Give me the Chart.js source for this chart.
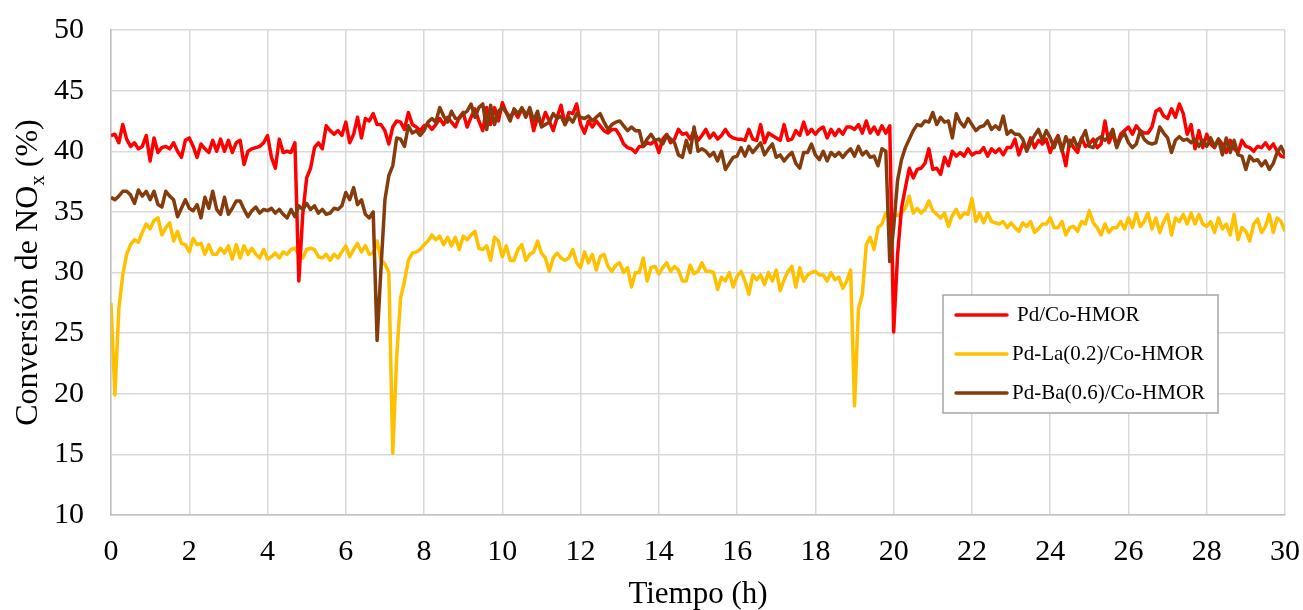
<!DOCTYPE html>
<html lang="es">
<head>
<meta charset="utf-8">
<title>Conversión de NOx</title>
<script src="https://cdn.jsdelivr.net/npm/chart.js@4.4.1/dist/chart.umd.min.js"></script>
<style>
    html, body { margin: 0; padding: 0; background: #fff; }
    #wrap { width: 1303px; height: 610px; position: relative; }
</style>
</head>
<body>
<div id="wrap"><canvas id="graph"></canvas></div>
<script>
// DATOS (una muestra cada 0.1 h)
const paso = 0.1;
const series = ["Pd/Co-HMOR", "Pd-La(0.2)/Co-HMOR", "Pd-Ba(0.6)/Co-HMOR"];
const colores = ["#FF0000", "#FFC000", "#843C0C"];

const pdCo = [
    41.3, 41.4, 40.7, 42.2, 41.0, 40.4, 40.7, 40.2, 40.4, 41.3,
    39.2, 41.1, 39.9, 40.3, 40.4, 40.2, 40.7, 40.0, 39.5, 40.9,
    41.1, 40.4, 39.5, 40.6, 40.2, 39.9, 40.9, 40.0, 41.0, 40.0,
    40.9, 39.9, 40.7, 40.9, 38.9, 40.0, 40.2, 40.3, 40.4, 40.7,
    41.3, 39.5, 38.6, 41.0, 39.9, 40.0, 39.9, 40.7, 29.3, 34.8,
    37.8, 38.6, 40.3, 40.7, 40.2, 42.1, 41.7, 41.4, 41.7, 41.3,
    42.4, 40.7, 41.4, 42.8, 41.1, 42.7, 42.5, 43.1, 42.2, 42.2,
    41.7, 40.6, 42.0, 42.5, 42.4, 41.8, 43.2, 42.2, 42.0, 41.7,
    42.1, 42.2, 41.8, 42.2, 42.7, 42.2, 42.8, 42.4, 42.0, 42.8,
    43.2, 42.0, 42.8, 43.5, 42.5, 41.7, 43.6, 42.2, 43.6, 42.5,
    44.0, 43.2, 42.8, 43.3, 42.8, 43.5, 43.1, 43.3, 41.7, 42.8,
    42.2, 43.2, 42.5, 41.7, 42.8, 43.8, 42.2, 43.2, 43.1, 43.9,
    42.2, 41.5, 42.5, 42.0, 42.5, 42.1, 41.7, 41.5, 41.8, 41.8,
    41.3, 40.6, 40.3, 40.2, 39.9, 40.4, 40.4, 40.7, 40.6, 40.9,
    39.9, 41.0, 41.4, 40.7, 41.0, 41.8, 41.4, 41.5, 41.0, 41.7,
    40.9, 41.3, 41.8, 41.1, 41.5, 41.0, 41.3, 41.8, 41.3, 41.1,
    41.0, 41.0, 40.9, 41.8, 41.0, 40.9, 42.2, 40.7, 41.5, 41.3,
    41.1, 40.9, 42.2, 40.9, 41.0, 41.7, 41.3, 42.4, 41.4, 41.8,
    41.4, 41.8, 42.0, 41.1, 41.8, 41.3, 41.8, 41.4, 42.0, 42.0,
    41.8, 42.2, 41.5, 42.5, 41.5, 42.0, 41.4, 42.1, 41.5, 42.1,
    25.1, 31.5, 35.3, 37.0, 38.6, 37.8, 38.5, 38.6, 39.0, 40.2,
    38.5, 38.6, 38.1, 39.5, 38.8, 40.0, 39.6, 39.9, 39.6, 40.2,
    39.7, 39.9, 39.9, 40.3, 39.6, 40.2, 39.9, 40.2, 39.7, 40.3,
    40.3, 41.0, 39.7, 40.6, 40.2, 41.1, 40.3, 40.9, 40.6, 41.0,
    39.9, 40.7, 41.3, 40.2, 38.8, 40.9, 40.3, 39.9, 41.1, 40.4,
    40.6, 41.0, 40.3, 40.6, 42.5, 40.7, 41.5, 40.4, 41.4, 41.7,
    42.0, 41.4, 42.1, 41.7, 41.5, 41.5, 42.0, 43.3, 43.5, 42.9,
    42.7, 43.5, 42.8, 43.9, 43.1, 41.4, 42.2, 40.2, 41.7, 40.3,
    41.4, 40.6, 40.3, 41.0, 40.6, 39.9, 40.9, 40.2, 39.9, 40.9,
    40.4, 40.3, 40.0, 40.4, 40.3, 40.7, 40.2, 40.6, 40.0, 39.6,
    39.5
];

const pdLa = [
    27.5, 19.9, 27.0, 29.8, 31.5, 32.3, 32.7, 32.5, 33.3, 34.0,
    33.6, 34.3, 34.5, 33.1, 33.7, 34.1, 32.6, 33.4, 32.4, 32.3,
    31.7, 32.8, 32.3, 32.4, 31.5, 32.3, 31.5, 31.5, 32.0, 31.6,
    32.2, 31.1, 32.3, 31.2, 32.2, 31.5, 32.0, 31.5, 31.2, 31.9,
    31.1, 31.3, 31.6, 31.2, 31.7, 31.5, 31.9, 32.0, 31.5, 31.2,
    31.9, 32.0, 31.9, 31.3, 31.2, 31.5, 31.0, 31.5, 31.2, 31.7,
    32.2, 31.3, 31.9, 32.4, 31.7, 32.2, 31.5, 31.6, 32.6, 31.0,
    30.7, 30.0, 15.1, 23.0, 27.9, 29.3, 31.0, 31.6, 31.7, 31.9,
    32.3, 32.6, 33.1, 32.7, 33.0, 32.3, 32.9, 32.2, 32.9, 31.9,
    33.0, 32.7, 33.1, 33.4, 32.0, 31.9, 32.2, 31.0, 32.9, 32.6,
    31.3, 32.2, 31.0, 31.0, 31.9, 32.3, 31.0, 31.5, 31.7, 32.6,
    31.6, 31.2, 30.1, 31.2, 31.6, 31.2, 31.0, 31.2, 31.9, 30.8,
    30.4, 31.7, 30.8, 31.5, 30.2, 31.3, 31.5, 30.5, 30.1, 30.6,
    30.8, 30.0, 30.4, 28.8, 30.0, 30.0, 31.2, 29.3, 30.4, 30.5,
    29.9, 30.4, 30.8, 30.1, 30.5, 30.2, 29.3, 29.3, 30.6, 29.9,
    30.1, 30.8, 30.1, 30.1, 30.0, 28.6, 29.6, 29.3, 30.0, 28.8,
    29.7, 30.1, 29.3, 28.2, 29.8, 29.4, 29.8, 29.0, 30.0, 29.3,
    30.2, 28.5, 29.4, 30.1, 30.5, 28.8, 30.4, 29.3, 29.8, 30.0,
    30.1, 29.8, 29.8, 29.3, 30.0, 29.4, 29.6, 28.7, 29.3, 30.2,
    19.0, 27.0, 28.2, 32.3, 32.9, 31.9, 33.7, 34.0, 34.9, 34.5,
    34.8, 34.7, 34.9, 35.3, 36.3, 34.9, 35.3, 34.9, 35.2, 35.9,
    35.1, 34.8, 34.5, 34.9, 33.8, 34.7, 35.2, 34.5, 34.9, 34.8,
    36.1, 34.2, 34.9, 34.1, 34.9, 34.2, 34.1, 34.0, 34.2, 33.7,
    34.1, 33.7, 33.4, 34.1, 33.8, 34.2, 33.3, 33.6, 34.0, 34.0,
    34.5, 33.7, 33.7, 34.2, 33.1, 33.7, 33.8, 33.4, 34.2, 34.0,
    35.1, 34.1, 33.7, 33.1, 34.0, 33.3, 33.7, 33.7, 34.2, 33.6,
    34.5, 33.7, 34.9, 33.8, 34.2, 34.9, 33.6, 34.5, 33.3, 34.2,
    34.8, 33.1, 34.5, 34.2, 34.8, 34.0, 34.9, 34.0, 34.8, 34.0,
    33.8, 34.2, 33.3, 34.5, 33.6, 34.0, 33.1, 34.8, 32.7, 33.7,
    33.4, 32.6, 34.0, 34.4, 33.3, 33.8, 34.8, 33.3, 34.5, 34.2,
    33.4
];

const pdBa = [
    36.2, 36.0, 36.3, 36.7, 36.7, 36.4, 35.7, 36.8, 36.3, 36.7,
    36.0, 36.7, 35.6, 35.4, 36.7, 36.3, 36.0, 34.6, 35.3, 36.0,
    35.3, 35.1, 35.6, 34.5, 36.2, 35.3, 36.7, 35.2, 34.8, 36.2,
    34.8, 35.3, 35.9, 35.9, 35.2, 34.6, 35.1, 35.4, 34.9, 35.2,
    35.1, 35.3, 34.9, 35.2, 34.8, 34.5, 35.2, 34.6, 35.5, 35.2,
    35.7, 35.2, 35.5, 34.9, 35.2, 34.8, 34.9, 35.3, 35.2, 35.5,
    36.6, 36.0, 37.0, 35.6, 36.0, 34.8, 34.5, 35.0, 24.4, 30.4,
    36.0, 38.0, 38.8, 41.1, 41.0, 40.4, 42.1, 41.5, 41.7, 41.3,
    41.7, 42.4, 42.7, 42.4, 43.6, 42.9, 42.4, 43.3, 42.7, 42.7,
    43.1, 43.3, 43.9, 42.8, 43.6, 43.9, 41.8, 43.8, 42.2, 43.3,
    43.6, 43.2, 42.5, 43.5, 43.1, 43.6, 42.8, 43.6, 42.5, 43.3,
    42.0, 42.2, 42.4, 43.1, 42.7, 42.9, 42.2, 42.8, 42.4, 43.1,
    42.8, 42.7, 42.9, 42.5, 42.8, 43.1, 42.4, 41.8, 42.2, 42.4,
    42.5, 42.1, 41.7, 42.0, 41.7, 41.7, 40.4, 41.0, 41.4, 40.9,
    41.0, 40.6, 41.3, 41.0, 40.7, 39.7, 39.5, 40.9, 39.9, 42.0,
    40.0, 40.2, 40.0, 39.6, 39.9, 39.2, 40.0, 38.5, 39.0, 39.5,
    39.6, 40.3, 39.6, 40.4, 39.9, 40.3, 40.7, 39.7, 40.2, 40.6,
    39.5, 39.7, 39.2, 39.6, 39.9, 39.0, 38.6, 39.9, 39.9, 40.6,
    39.7, 39.3, 40.0, 39.2, 39.9, 39.6, 39.9, 39.5, 39.9, 40.2,
    39.6, 40.4, 39.7, 40.0, 39.5, 39.6, 38.8, 40.2, 40.0, 30.9,
    33.7, 37.6, 39.3, 40.3, 41.0, 41.7, 42.2, 42.1, 42.5, 42.4,
    43.2, 42.2, 42.8, 42.4, 42.5, 41.1, 43.1, 42.4, 42.0, 42.7,
    42.2, 41.7, 42.0, 42.1, 42.5, 41.8, 42.1, 41.8, 42.9, 41.4,
    41.7, 41.4, 41.4, 41.0, 40.0, 40.7, 41.3, 41.8, 40.9, 41.7,
    41.1, 40.3, 41.2, 40.0, 41.2, 40.4, 41.1, 40.3, 41.0, 41.7,
    40.4, 40.3, 41.0, 41.2, 40.9, 41.2, 41.8, 40.3, 41.1, 41.5,
    40.7, 40.3, 40.6, 41.7, 41.0, 40.7, 40.6, 40.7, 42.0, 41.5,
    41.1, 39.9, 40.9, 41.2, 40.9, 41.0, 40.7, 41.0, 40.4, 40.9,
    40.4, 41.1, 40.4, 41.0, 39.7, 41.1, 39.9, 40.9, 39.7, 39.6,
    38.5, 39.6, 39.2, 39.3, 38.8, 39.2, 38.5, 39.0, 39.9, 40.4,
    39.7
];

// tiempo de cada muestra (h)
const tiempo = pdCo.map((_, i) => +(i * paso).toFixed(1));

const FUENTE = "'Liberation Serif', 'Times New Roman', serif";

function puntos(valores) {
    return valores.map((v, i) => ({ x: tiempo[i], y: v }));
}

// TITULO DEL EJE Y CON SUBINDICE
const tituloY = {
    id: "tituloY",
    afterDraw(chart) {
        const ctx = chart.ctx;
        const area = chart.chartArea;
        const partes = [
            { t: "Conversión de NO", size: 32, dy: 0 },
            { t: "x", size: 21, dy: 7 },
            { t: " (%)", size: 32, dy: 0 },
        ];
        ctx.save();
        let total = 0;
        partes.forEach((p) => {
            ctx.font = p.size + "px " + FUENTE;
            p.w = ctx.measureText(p.t).width;
            total += p.w;
        });
        ctx.translate(26, (area.top + area.bottom) / 2);
        ctx.rotate(-Math.PI / 2);
        ctx.fillStyle = "#000";
        ctx.textBaseline = "alphabetic";
        let x = -total / 2;
        partes.forEach((p) => {
            ctx.font = p.size + "px " + FUENTE;
            ctx.fillText(p.t, x, 11 + p.dy);
            x += p.w;
        });
        ctx.restore();
    },
};

// LEYENDA DENTRO DEL AREA
const leyenda = {
    id: "leyenda",
    afterDraw(chart) {
        const ctx = chart.ctx;
        const caja = { x: 943, y: 295, w: 275, h: 118 };
        ctx.save();
        ctx.fillStyle = "#fff";
        ctx.fillRect(caja.x, caja.y, caja.w, caja.h);
        ctx.strokeStyle = "#a6a6a6";
        ctx.lineWidth = 1.5;
        ctx.strokeRect(caja.x, caja.y, caja.w, caja.h);
        ctx.font = "21px " + FUENTE;
        ctx.textBaseline = "middle";
        ctx.fillStyle = "#000";
        const filas = [315, 354, 393];
        const textoX = [1017, 1012, 1012];
        series.forEach((nombre, i) => {
            ctx.strokeStyle = colores[i];
            ctx.lineWidth = 3.5;
            ctx.lineCap = "round";
            ctx.beginPath();
            ctx.moveTo(956, filas[i]);
            ctx.lineTo(1007, filas[i]);
            ctx.stroke();
            ctx.fillText(nombre, textoX[i], filas[i]);
        });
        ctx.restore();
    },
};

// CONSTRUIR GRAFICO
const ctx = document.getElementById("graph");
Chart.defaults.color = "#000";
Chart.defaults.font.family = FUENTE;

new Chart(ctx, {
    type: "line",
    data: {
        datasets: [
            {
                label: series[0],
                data: puntos(pdCo),
                borderColor: colores[0],
                order: 1,
            },
            {
                label: series[1],
                data: puntos(pdLa),
                borderColor: colores[1],
                order: 2,
            },
            {
                label: series[2],
                data: puntos(pdBa),
                borderColor: colores[2],
                order: 0,
            },
        ],
    },
    options: {
        responsive: true,
        maintainAspectRatio: false,
        animation: false,
        devicePixelRatio: 1,
        layout: {
            padding: { left: 0, right: 18, top: 30, bottom: 0 },
        },
        elements: {
            point: { radius: 0 },
            line: { borderWidth: 3.5, tension: 0, borderJoinStyle: "round" },
        },
        scales: {
            x: {
                type: "linear",
                min: 0,
                max: 30,
                grid: { color: "#d9d9d9", lineWidth: 1.5, drawTicks: false },
                border: { color: "#bfbfbf", width: 1.5 },
                ticks: {
                    stepSize: 2,
                    padding: 19,
                    maxRotation: 0,
                    font: { size: 30, family: FUENTE },
                },
                title: {
                    display: true,
                    text: "Tiempo (h)",
                    padding: 0,
                    font: { size: 31, family: FUENTE, lineHeight: 1.0 },
                },
                afterFit(scale) {
                    scale.height = 95;
                    scale.paddingLeft = 0;
                    scale.paddingRight = 0;
                },
            },
            y: {
                min: 10,
                max: 50,
                grid: { color: "#d9d9d9", lineWidth: 1.5, drawTicks: false },
                border: { color: "#bfbfbf", width: 1.5 },
                ticks: {
                    stepSize: 5,
                    padding: 27,
                    font: { size: 30, family: FUENTE },
                },
                afterFit(scale) {
                    scale.width = 111;
                    scale.paddingTop = 0;
                    scale.paddingBottom = 0;
                },
            },
        },
        plugins: {
            legend: { display: false },
            tooltip: { enabled: false },
        },
    },
    plugins: [tituloY, leyenda],
});
</script>
</body>
</html>
